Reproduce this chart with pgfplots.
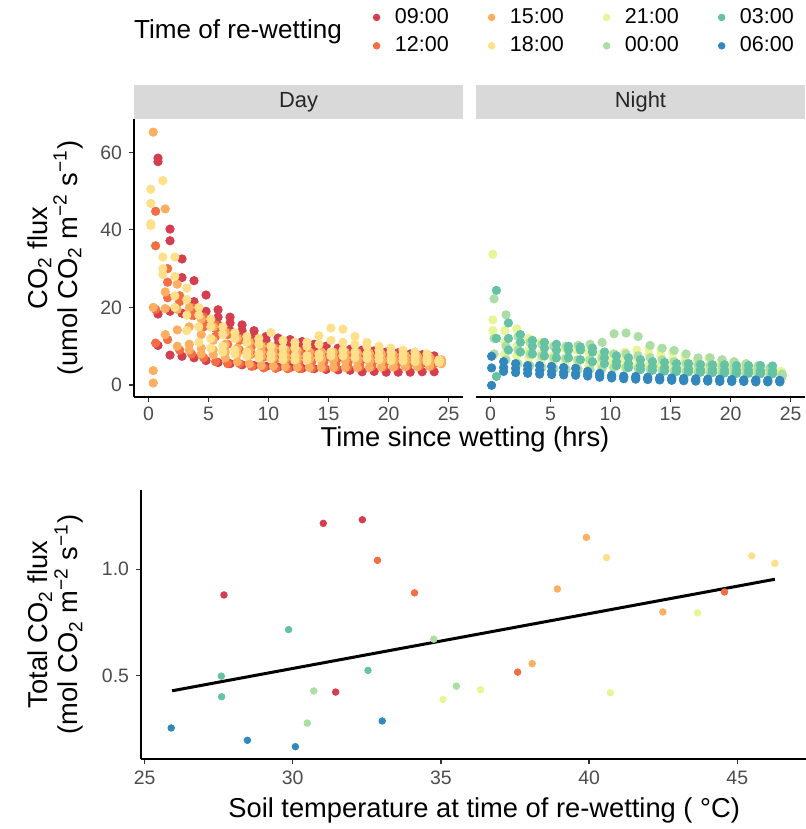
\documentclass[border=0pt]{standalone}
\usepackage{fontspec}
\setmainfont{Liberation Sans}
\usepackage{pgfplots}
\usepackage{pgfplotstable}
\pgfplotsset{compat=1.18}
\definecolor{cA}{HTML}{D53E4F}
\definecolor{cB}{HTML}{F46D43}
\definecolor{cC}{HTML}{FDAE61}
\definecolor{cD}{HTML}{FEE08B}
\definecolor{cE}{HTML}{E6F598}
\definecolor{cF}{HTML}{ABDDA4}
\definecolor{cG}{HTML}{66C2A5}
\definecolor{cH}{HTML}{3288BD}
\definecolor{stripgray}{HTML}{D9D9D9}

% Day: 09:00
\pgfplotstableread{
t a b c d
0.8 58.5 57.6 18.3 10.2
1.8 40.2 37.2 19.0 7.7
2.8 32.5 27.7 18.5 7.4
3.8 26.9 21.5 18.0 7.0
4.8 23.2 19.0 17.0 6.3
5.8 19.4 17.5 15.5 5.8
6.8 17.5 16.0 14.0 5.5
7.8 15.5 14.0 12.5 5.2
8.8 14.0 12.5 11.0 5.0
9.8 12.5 11.5 10.0 4.8
10.8 12.1 10.5 9.0 4.6
11.8 11.7 10.0 8.5 4.5
12.8 11.2 9.5 8.0 4.3
13.8 10.5 9.0 7.5 4.2
14.8 10.0 8.8 7.2 4.0
15.8 9.5 8.5 7.0 3.9
16.8 9.2 8.2 6.8 3.8
17.8 9.0 8.0 6.6 3.4
18.8 8.8 7.8 6.4 3.5
19.8 8.5 7.5 6.2 3.3
20.8 8.3 7.3 6.0 3.3
21.8 8.0 7.0 5.8 3.3
22.8 7.8 6.8 5.6 3.4
23.8 7.5 6.5 5.5 3.4
}\tA
% Day: 12:00
\pgfplotstableread{
t a b c d
0.6 44.8 35.9 19.5 10.8
1.6 30.0 26.5 22.5 11.7
2.6 22.5 23.0 21.5 9.0
3.6 19.0 20.0 18.0 8.0
4.6 16.5 17.5 15.0 7.0
5.6 14.5 15.5 12.5 6.0
6.6 13.0 13.5 10.5 5.5
7.6 12.0 11.5 9.0 5.5
8.6 11.0 10.0 8.0 4.8
9.6 10.0 9.0 7.2 4.4
10.6 9.5 8.5 6.8 4.3
11.6 9.0 8.0 6.5 4.2
12.6 8.6 7.6 6.2 4.2
13.6 8.2 7.3 6.0 4.3
14.6 8.0 7.0 5.8 4.4
15.6 7.8 6.8 5.6 4.5
16.6 7.5 6.6 5.5 4.6
17.6 7.3 6.5 5.4 4.7
18.6 7.2 6.4 5.3 4.8
19.6 7.0 6.3 5.2 4.8
20.6 6.9 6.2 5.1 4.9
21.6 6.8 6.1 5.0 5.0
22.6 6.7 6.0 5.0 5.0
23.6 6.6 6.0 4.9 5.1
}\tB
% Day: 15:00
\pgfplotstableread{
t a b c d
0.4 65.2 3.7 0.5 20.0
1.4 45.4 19.7 13.0 24.0
2.4 26.0 14.2 10.0 19.5
3.4 20.0 10.5 9.0 15.0
4.4 17.0 9.5 8.0 13.0
5.4 15.0 9.0 7.8 11.5
6.4 13.5 8.5 7.0 10.5
7.4 12.0 8.0 6.0 9.5
8.4 11.0 7.6 5.5 9.0
9.4 10.0 7.3 5.0 8.5
10.4 9.5 7.0 4.8 8.0
11.4 9.0 6.8 4.7 7.6
12.4 8.8 6.6 4.6 7.3
13.4 8.5 6.5 4.5 7.0
14.4 8.5 6.4 4.5 7.0
15.4 8.5 6.3 4.5 7.0
16.4 8.4 6.2 4.5 7.0
17.4 8.3 6.1 4.5 6.9
18.4 8.2 6.0 4.5 6.8
19.4 8.0 6.0 4.6 6.7
20.4 7.8 5.9 4.6 6.6
21.4 7.6 5.8 4.7 6.5
22.4 7.4 5.7 4.7 6.4
23.4 7.2 5.6 4.8 6.3
24.4 6.5 5.5 5.5 6.2
}\tC
% Day: 18:00
\pgfplotstableread{
t a b c d
0.2 46.8 41.6 50.5 41.1
1.2 52.7 33.0 30.0 28.5
2.2 33.0 28.0 23.0 20.0
3.2 25.0 22.0 18.0 14.0
4.2 20.0 18.0 15.0 11.0
5.2 17.0 15.0 12.0 9.5
6.2 15.0 13.0 10.0 8.5
7.2 13.5 12.0 9.0 8.0
8.2 12.5 11.0 8.5 7.5
9.2 12.0 10.5 8.0 7.0
10.2 13.5 10.0 8.0 6.8
11.2 11.5 9.5 7.8 6.5
12.2 11.0 9.5 7.5 6.5
13.2 11.0 10.0 7.5 6.5
14.2 12.7 10.5 8.0 7.0
15.2 14.7 11.5 8.5 7.5
16.2 14.4 11.0 9.0 7.5
17.2 12.5 10.5 8.5 7.0
18.2 11.0 10.0 8.0 6.8
19.2 10.0 9.0 7.5 6.5
20.2 9.5 8.5 7.0 6.3
21.2 9.0 8.0 7.0 6.2
22.2 8.5 7.5 6.8 6.0
23.2 8.0 7.0 6.5 6.0
24.2 6.2 6.5 6.0 5.8
}\tD
% Night: 21:00
\pgfplotstableread{
t a b c
0.2 33.7 16.8 14.0
1.2 14.0 11.0 8.0
2.2 14.5 10.0 7.5
3.2 12.0 9.0 7.0
4.2 11.0 8.0 6.5
5.2 10.0 7.5 6.0
6.2 9.5 7.0 5.5
7.2 9.0 6.5 5.0
8.2 8.5 6.5 5.0
9.2 8.0 6.0 4.8
10.2 8.0 6.0 4.5
11.2 8.5 6.5 4.5
12.2 9.0 7.0 4.8
13.2 9.5 8.0 5.0
14.2 9.0 7.5 5.0
15.2 8.5 6.5 4.5
16.2 7.5 6.0 4.0
17.2 6.5 5.5 3.8
18.2 7.0 5.0 3.5
19.2 6.0 4.8 3.4
20.2 5.5 4.5 3.3
21.2 5.0 4.2 3.2
22.2 4.5 4.0 3.0
23.2 4.0 3.8 3.0
24.2 3.5 3.5 2.8
}\tE
% Night: 00:00
\pgfplotstableread{
t a b c
0.3 22.2 12.0 8.0
1.3 18.1 10.0 6.5
2.3 12.5 9.0 5.5
3.3 11.0 8.0 5.0
4.3 10.5 7.5 4.5
5.3 10.0 7.0 4.3
6.3 10.0 6.8 4.0
7.3 10.2 6.5 4.0
8.3 10.5 6.5 4.0
9.3 11.0 7.0 4.2
10.3 13.2 8.0 4.5
11.3 13.4 8.0 4.5
12.3 12.5 7.5 4.3
13.3 10.2 7.0 4.0
14.3 9.5 6.5 3.8
15.3 8.9 6.0 3.6
16.3 8.0 5.5 3.5
17.3 7.0 5.2 3.4
18.3 7.0 5.0 3.3
19.3 6.5 4.8 3.2
20.3 6.0 4.5 3.1
21.3 5.5 4.3 3.0
22.3 5.0 4.0 3.0
23.3 4.5 3.8 2.9
24.3 2.5 2.2 2.8
}\tF
% Night: 03:00
\pgfplotstableread{
t a b c
0.5 24.4 12.0 2.2
1.5 16.0 12.0 9.0
2.5 13.0 11.0 8.5
3.5 11.5 10.0 8.0
4.5 11.0 9.5 7.5
5.5 10.5 9.0 7.0
6.5 10.0 9.0 7.0
7.5 9.8 9.0 6.5
8.5 9.5 8.5 6.0
9.5 8.5 7.0 5.5
10.5 7.5 6.0 5.0
11.5 7.0 5.5 4.5
12.5 6.5 5.0 4.0
13.5 6.0 4.8 3.8
14.5 5.8 4.5 3.6
15.5 5.5 4.3 3.5
16.5 5.5 4.2 3.4
17.5 5.3 4.0 3.3
18.5 5.2 4.0 3.2
19.5 5.2 3.9 3.1
20.5 5.0 3.8 3.0
21.5 5.0 3.8 3.0
22.5 5.0 3.7 2.9
23.5 4.9 3.7 2.9
}\tG
% Night: 06:00
\pgfplotstableread{
t a b c
0.1 -0.1 7.4 4.4
1.1 6.0 4.5 3.5
2.1 5.5 4.3 3.2
3.1 5.0 4.0 3.0
4.1 5.0 3.8 2.8
5.1 4.8 3.5 2.7
6.1 4.5 3.3 2.6
7.1 4.3 3.0 2.5
8.1 3.5 2.8 2.3
9.1 3.0 2.5 2.0
10.1 2.5 2.2 1.8
11.1 2.3 2.0 1.6
12.1 2.2 1.8 1.5
13.1 2.0 1.6 1.4
14.1 1.9 1.5 1.3
15.1 1.8 1.4 1.2
16.1 1.7 1.3 1.1
17.1 1.6 1.2 1.0
18.1 1.5 1.1 1.0
19.1 1.5 1.1 0.9
20.1 1.4 1.0 0.9
21.1 1.3 1.0 0.9
22.1 1.3 0.9 0.8
23.1 1.2 0.9 0.8
24.1 1.2 0.9 0.8
}\tH

\pgfplotsset{
  base/.style={
    scale only axis, anchor=south west,
    tick align=outside, major tick length=2.5bp,
    tick style={black!80, line width=0.6bp},
    axis line style={-, line width=0.6bp, black},
    /pgf/number format/assume math mode=true,
    ticklabel style={font=\fontsize{9.75}{11}\selectfont, text=black!70},
    label style={font=\fontsize{13.7}{12.5}\selectfont, align=center},
  },
  panel/.style={base,
    width=164.5bp, height=139bp,
    xmin=-1.2, xmax=26.2, ymin=-3.1, ymax=68.6,
    xtick={0,5,...,25}, ytick={0,20,40,60},
    xticklabel style={yshift=1bp},
    clip=false,
  },
  dot/.style={only marks, mark=*, mark size=2.1bp, color=#1, mark options={draw=none, fill=#1}},
  bdot/.style={only marks, mark=*, mark size=1.65bp, color=#1, mark options={draw=none, fill=#1}},
}

\begin{document}
\begin{tikzpicture}
\useasboundingbox (0bp,0bp) rectangle (403bp,414.5bp);

% ---------- Day panel ----------
\begin{axis}[panel, at={(67bp,216bp)},
  axis x line*=bottom, axis y line*=left,
  ylabel={CO\textsubscript{2} flux\\(umol CO\textsubscript{2} m\textsuperscript{−2} s\textsuperscript{−1})},
  ylabel style={at={(axis description cs:-0.24,0.5)}, anchor=center},
]
\fill[stripgray] (axis description cs:0,1) rectangle (axis description cs:1,1.1223);
\node[font=\fontsize{11}{13}\selectfont, text=black!85] at (axis description cs:0.5,1.0612) {Day};
\addplot[dot=cA] table[x=t,y=a] {\tA};
\addplot[dot=cA] table[x=t,y=b] {\tA};
\addplot[dot=cA] table[x=t,y=c] {\tA};
\addplot[dot=cA] table[x=t,y=d] {\tA};
\addplot[dot=cB] table[x=t,y=a] {\tB};
\addplot[dot=cB] table[x=t,y=b] {\tB};
\addplot[dot=cB] table[x=t,y=c] {\tB};
\addplot[dot=cB] table[x=t,y=d] {\tB};
\addplot[dot=cC] table[x=t,y=a] {\tC};
\addplot[dot=cC] table[x=t,y=b] {\tC};
\addplot[dot=cC] table[x=t,y=c] {\tC};
\addplot[dot=cC] table[x=t,y=d] {\tC};
\addplot[dot=cD] table[x=t,y=a] {\tD};
\addplot[dot=cD] table[x=t,y=b] {\tD};
\addplot[dot=cD] table[x=t,y=c] {\tD};
\addplot[dot=cD] table[x=t,y=d] {\tD};
\end{axis}

% ---------- Night panel ----------
\begin{axis}[panel, at={(238bp,216bp)},
  axis x line*=bottom, axis y line=none,
]
\fill[stripgray] (axis description cs:0,1) rectangle (axis description cs:1,1.1223);
\node[font=\fontsize{11}{13}\selectfont, text=black!85] at (axis description cs:0.5,1.0612) {Night};
\addplot[dot=cE] table[x=t,y=a] {\tE};
\addplot[dot=cE] table[x=t,y=b] {\tE};
\addplot[dot=cE] table[x=t,y=c] {\tE};
\addplot[dot=cF] table[x=t,y=a] {\tF};
\addplot[dot=cF] table[x=t,y=b] {\tF};
\addplot[dot=cF] table[x=t,y=c] {\tF};
\addplot[dot=cG] table[x=t,y=a] {\tG};
\addplot[dot=cG] table[x=t,y=b] {\tG};
\addplot[dot=cG] table[x=t,y=c] {\tG};
\addplot[dot=cH] table[x=t,y=a] {\tH};
\addplot[dot=cH] table[x=t,y=b] {\tH};
\addplot[dot=cH] table[x=t,y=c] {\tH};
\end{axis}

\node[font=\fontsize{13.7}{16}\selectfont] at (232.5bp,195bp) {Time since wetting (hrs)};

% ---------- Bottom panel ----------
\begin{axis}[base, at={(70.5bp,35bp)},
  width=332.5bp, height=134.5bp,
  xmin=24.88, xmax=47.32, ymin=0.107, ymax=1.373,
  xtick={25,30,...,45}, ytick={0.5,1.0},
  yticklabel style={/pgf/number format/.cd, fixed, fixed zerofill, precision=1},
  axis x line*=bottom, axis y line*=left,
  xlabel={Soil temperature at time of re-wetting ( °C)},
  xlabel style={at={(axis description cs:0.516,-0.19)}, anchor=center},
  ylabel={Total CO\textsubscript{2} flux\\(mol CO\textsubscript{2} m\textsuperscript{−2} s\textsuperscript{−1})},
  ylabel style={at={(axis description cs:-0.128,0.5)}, anchor=center},
  clip=false,
  legend columns=2, transpose legend,
  legend image code/.code={\draw[mark repeat=2,mark phase=2,#1] plot coordinates {(-0.5bp,0bp) (0bp,0bp) (0.5bp,0bp)};},
  legend style={draw=none, fill=none, inner sep=0pt,
    at={(axis description cs:0.6685,2.704)}, anchor=center,
    font=\fontsize{10.8}{13}\selectfont,
    column sep=5.5bp, row sep=1.2bp,
    /tikz/every even column/.append style={column sep=17.8bp}},
]
\addplot[bdot=cA] coordinates {(27.68,0.879) (31.03,1.216) (31.45,0.422) (32.35,1.233)};
\addlegendentry{09:00}
\addplot[bdot=cB] coordinates {(32.86,1.042) (34.11,0.889) (37.59,0.516) (44.57,0.893)};
\addlegendentry{12:00}
\addplot[bdot=cC] coordinates {(38.08,0.556) (38.93,0.907) (39.91,1.150) (42.49,0.799)};
\addlegendentry{15:00}
\addplot[bdot=cD] coordinates {(40.59,1.055) (45.49,1.063) (46.27,1.028)};
\addlegendentry{18:00}
\addplot[bdot=cE] coordinates {(35.07,0.387) (36.34,0.433) (40.72,0.419) (43.66,0.795)};
\addlegendentry{21:00}
\addplot[bdot=cF] coordinates {(30.49,0.276) (30.71,0.427) (34.76,0.671) (35.52,0.450)};
\addlegendentry{00:00}
\addplot[bdot=cG] coordinates {(27.59,0.497) (27.60,0.400) (29.86,0.716) (32.54,0.524)};
\addlegendentry{03:00}
\addplot[bdot=cH] coordinates {(25.90,0.253) (28.47,0.195) (30.09,0.165) (33.02,0.286)};
\addlegendentry{06:00}
\addplot[black, line width=1.5bp, forget plot] coordinates {(25.93,0.428) (46.27,0.953)};
\end{axis}

\node[font=\fontsize{13.1}{15}\selectfont] at (119bp,398.5bp) {Time of re-wetting};
\end{tikzpicture}
\end{document}
